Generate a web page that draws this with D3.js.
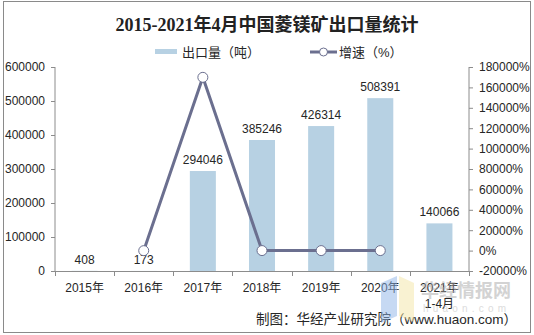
<!DOCTYPE html>
<html><head><meta charset="utf-8">
<script src="https://cdn.jsdelivr.net/npm/d3@7"></script>
<style>
html,body{margin:0;padding:0;background:#fff;}
svg{display:block;font-family:"Liberation Sans","Noto Sans CJK SC",Arial,sans-serif;}
</style></head>
<body>
<svg id="c" width="534" height="335"></svg>
<script>
const categories = ["2015年","2016年","2017年","2018年","2019年","2020年","2021年\n1-4月"];
const exportVolume = [408, 173, 294046, 385246, 426314, 508391, 140066];
const growthRate = [null, -57.6, 169868, 31.0, 10.7, 19.3, null];
const leftTicks = [0, 100000, 200000, 300000, 400000, 500000, 600000];
const rightTicks = [-20000, 0, 20000, 40000, 60000, 80000, 100000, 120000, 140000, 160000, 180000];
const titleText = "2015-2021年4月中国菱镁矿出口量统计";
const seriesNames = ["出口量（吨）", "增速（%）"];
const sourceText = "制图：华经产业研究院（www.huaon.com）";

const svg = d3.select("#c");
const L = 55, R = 469, T = 67, B = 271;
const barColor = "#b7d1e3", lineColor = "#6b6f8f", axisColor = "#8c8c8c", textColor = "#262626";

// border
svg.append("rect").attr("x",3.5).attr("y",1.5).attr("width",527).attr("height",331)
  .attr("fill","none").attr("stroke","#8a8a8a").attr("stroke-width",1);

const x = d3.scaleBand().domain(categories).range([L, R]).paddingInner(0.56).paddingOuter(0.28);
const yL = d3.scaleLinear().domain([0, 600000]).range([B, T]);
const yR = d3.scaleLinear().domain([-20000, 180000]).range([B, T]);

// title
svg.append("text").attr("x",267).attr("y",31).attr("text-anchor","middle")
  .attr("font-family","'Liberation Serif','Noto Sans CJK SC',serif").attr("font-weight","bold")
  .attr("font-size",18).attr("fill","#222").text(titleText);

// legend
svg.append("rect").attr("x",155).attr("y",49).attr("width",22).attr("height",5).attr("fill",barColor);
svg.append("text").attr("x",182).attr("y",57).attr("font-size",13).attr("fill",textColor).text(seriesNames[0]);
svg.append("line").attr("x1",310).attr("x2",337).attr("y1",52).attr("y2",52).attr("stroke",lineColor).attr("stroke-width",3);
svg.append("circle").attr("cx",323.5).attr("cy",52).attr("r",4).attr("fill","#fff").attr("stroke",lineColor).attr("stroke-width",1);
svg.append("text").attr("x",339).attr("y",57).attr("font-size",13).attr("fill",textColor).text(seriesNames[1]);

// bars
svg.append("g").selectAll("rect").data(exportVolume).join("rect")
  .attr("x",(d,i)=>x(categories[i])).attr("width",x.bandwidth())
  .attr("y",d=>yL(d)).attr("height",d=>B-yL(d)).attr("fill",barColor);

// left axis
const gL = svg.append("g").attr("transform",`translate(${L},0)`)
  .call(d3.axisLeft(yL).tickValues(leftTicks).tickSize(4).tickPadding(6).tickFormat(d3.format("d")));
// right axis
const gR = svg.append("g").attr("transform",`translate(${R},0)`)
  .call(d3.axisRight(yR).tickValues(rightTicks).tickSize(4).tickPadding(6).tickFormat(d=>d+"%"));
[gL,gR].forEach(g=>{
  g.select(".domain").attr("stroke",axisColor).attr("d", `M0,${T}V${B}`);
  g.selectAll(".tick line").attr("stroke",axisColor);
  g.selectAll(".tick text").attr("fill",textColor).attr("font-size",12)
    .attr("font-family","'Liberation Sans',Arial,sans-serif");
});

// bottom axis
svg.append("line").attr("x1",L).attr("x2",R).attr("y1",B+0.5).attr("y2",B+0.5).attr("stroke",axisColor);
const bounds = categories.map(c => x(c) - x.step()*x.paddingOuter()).concat([R]);
svg.append("g").selectAll("line").data(bounds).join("line")
  .attr("x1",d=>Math.round(d)+0.5).attr("x2",d=>Math.round(d)+0.5)
  .attr("y1",B).attr("y2",B+5).attr("stroke",axisColor);
const xl = svg.append("g").selectAll("text").data(categories).join("text")
  .attr("x",d=>x(d)+x.bandwidth()/2).attr("y",292).attr("text-anchor","middle")
  .attr("font-size",12).attr("fill",textColor);
xl.each(function(d){
  const lines = d.split("\n");
  d3.select(this).selectAll("tspan").data(lines).join("tspan")
    .attr("x",x(d)+x.bandwidth()/2).attr("dy",(l,i)=>i===0?0:16).text(l=>l);
});

// bar value labels
svg.append("g").selectAll("text").data(exportVolume).join("text")
  .attr("x",(d,i)=>x(categories[i])+x.bandwidth()/2).attr("y",d=>yL(d)-7)
  .attr("text-anchor","middle").attr("font-size",12).attr("fill",textColor).text(d=>d);

// growth line
const pts = growthRate.map((v,i)=>({v,c:categories[i]})).filter(p=>p.v!==null);
const line = d3.line().x(p=>x(p.c)+x.bandwidth()/2).y(p=>yR(p.v));
svg.append("path").datum(pts).attr("d",line).attr("fill","none")
  .attr("stroke",lineColor).attr("stroke-width",3).attr("stroke-linejoin","round");
svg.append("g").selectAll("circle").data(pts).join("circle")
  .attr("cx",p=>x(p.c)+x.bandwidth()/2).attr("cy",p=>yR(p.v)).attr("r",5)
  .attr("fill","#fff").attr("stroke",lineColor).attr("stroke-width",1);

// source
svg.append("text").attr("x",517).attr("y",324).attr("text-anchor","end")
  .attr("font-size",13.5).attr("fill",textColor).text(sourceText);

// watermark
const wm = svg.append("g").attr("opacity",0.5);
wm.append("polygon").attr("points","381,283 397,276 397,316 381,323").attr("fill","#8fb4e8");
wm.append("polygon").attr("points","399,276 414,283 414,322 399,316").attr("fill","#f5e6a6");
wm.append("text").attr("x",421).attr("y",297).attr("font-size",18).attr("font-weight","bold")
  .attr("font-family","'Noto Sans CJK SC',sans-serif").attr("fill","#a8a8a8").text("华经情报网");
wm.append("text").attr("x",423).attr("y",312).attr("font-size",10).attr("letter-spacing",4.2)
  .attr("fill","#bbbbbb").text("huaon.com");
</script>
</body></html>
